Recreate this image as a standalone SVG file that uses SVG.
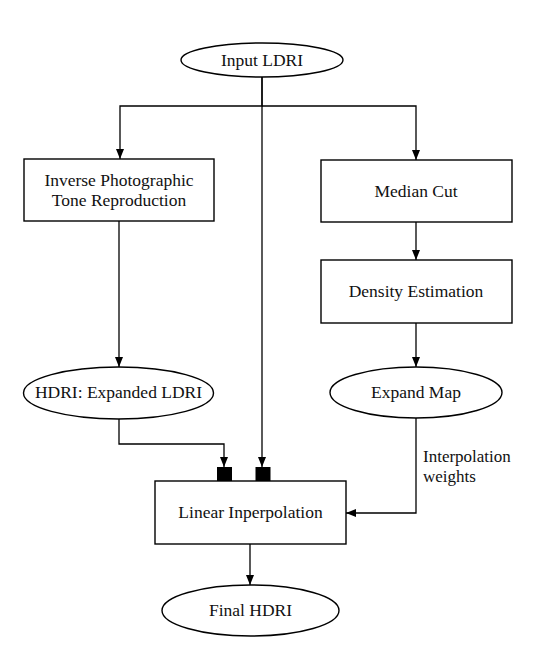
<svg xmlns="http://www.w3.org/2000/svg" width="536" height="656" viewBox="0 0 536 656">
<defs>
<style>
.n{fill:#fff;stroke:#000;stroke-width:1.4}
.t{font-family:"Liberation Serif","Times New Roman",serif;font-size:17.5px;fill:#111;text-anchor:middle}
.l{font-family:"Liberation Serif","Times New Roman",serif;font-size:17px;fill:#111}
.c{fill:none;stroke:#000;stroke-width:1.3}
.sq{fill:#000}
</style>
<marker id="ah" viewBox="0 0 10 8" refX="10" refY="4" markerWidth="10" markerHeight="8" markerUnits="userSpaceOnUse" orient="auto">
<path d="M0,0 L10,4 L0,8 Z" fill="#000"/>
</marker>
</defs>
<rect width="536" height="656" fill="#fff"/>
<g id="connectors">
<path class="c" d="M262,77 V106 H120 V159" marker-end="url(#ah)"/>
<path class="c" d="M262,106 H416 V160" marker-end="url(#ah)"/>
<path class="c" d="M262,77 V467" marker-end="url(#ah)"/>
<path class="c" d="M119,221 V367" marker-end="url(#ah)"/>
<path class="c" d="M416,222 V260" marker-end="url(#ah)"/>
<path class="c" d="M416,323 V367" marker-end="url(#ah)"/>
<path class="c" d="M119,419 V444 H224 V467" marker-end="url(#ah)"/>
<path class="c" d="M416,418 V513 H346" marker-end="url(#ah)"/>
<path class="c" d="M250,544 V585" stroke="#333" marker-end="url(#ah)"/>
<rect class="sq" x="217" y="467" width="15" height="14"/>
<rect class="sq" x="255.5" y="467" width="15" height="14"/>
<text class="l" x="423" y="462">Interpolation</text>
<text class="l" x="423" y="481.5">weights</text>
</g>
<g id="input">
<ellipse class="n" cx="262" cy="60" rx="81" ry="17"/>
<text class="t" x="262" y="66">Input LDRI</text>
</g>
<g id="inverse">
<rect class="n" x="24" y="159" width="190" height="62"/>
<text class="t" x="119" y="186">Inverse Photographic</text>
<text class="t" x="119" y="206">Tone Reproduction</text>
</g>
<g id="median">
<rect class="n" x="321" y="160" width="191" height="62"/>
<text class="t" x="416" y="197">Median Cut</text>
</g>
<g id="density">
<rect class="n" x="321" y="260" width="191" height="63"/>
<text class="t" x="416" y="297">Density Estimation</text>
</g>
<g id="hdri">
<ellipse class="n" cx="118.5" cy="393" rx="95" ry="26"/>
<text class="t" x="118.5" y="398">HDRI: Expanded LDRI</text>
</g>
<g id="expand">
<ellipse class="n" cx="416" cy="392.5" rx="86" ry="25.5"/>
<text class="t" x="416" y="398">Expand Map</text>
</g>
<g id="linear">
<rect class="n" x="155" y="481" width="191" height="63"/>
<text class="t" x="250.5" y="518">Linear Inperpolation</text>
</g>
<g id="final">
<ellipse class="n" cx="250.5" cy="610.5" rx="88.5" ry="25.5"/>
<text class="t" x="250.5" y="616">Final HDRI</text>
</g>
</svg>
